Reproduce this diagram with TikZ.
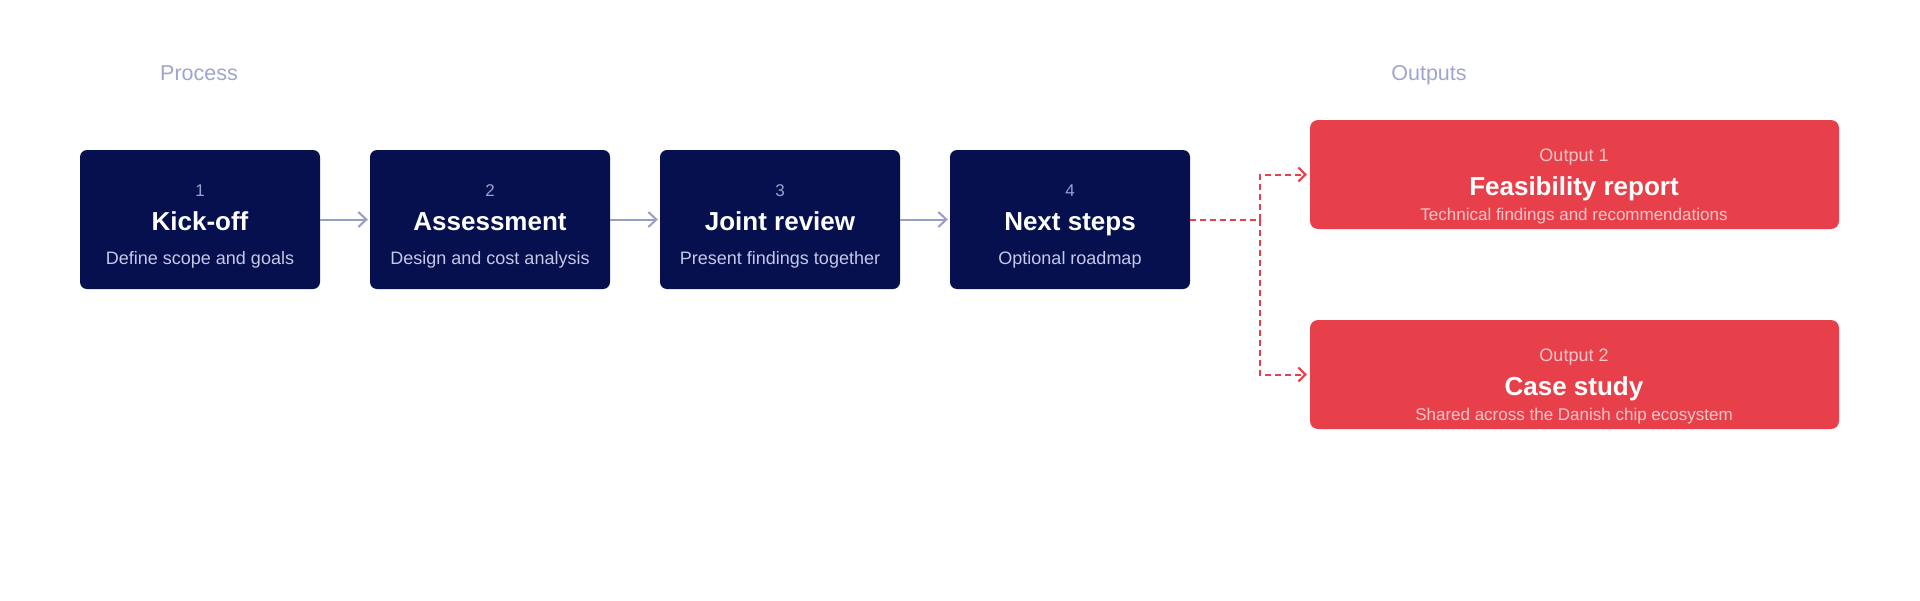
\documentclass[tikz,border=0pt]{standalone}
\usepackage{fontspec}
\setmainfont{Liberation Sans}
\usetikzlibrary{arrows.meta}
\definecolor{navy}{HTML}{06104F}
\definecolor{redbox}{HTML}{E8404A}
\definecolor{lbl}{HTML}{9FA5CF}
\definecolor{numc}{HTML}{9BA1CC}
\definecolor{subc}{HTML}{C5C9E6}
\definecolor{arrc}{HTML}{9A9DC3}
\definecolor{pinkt}{HTML}{F8C6C9}
\tikzset{
  stepbox/.style={fill=navy, draw=none, rounded corners=7pt, minimum width=240pt, minimum height=139pt, inner sep=0pt},
  outbox/.style={fill=redbox, draw=none, rounded corners=8pt, minimum width=529pt, minimum height=109pt, inner sep=0pt},
  headlbl/.style={anchor=base, inner sep=0pt, text=lbl, font=\fontsize{21.5}{25}\selectfont},
  numtxt/.style={anchor=base, inner sep=0pt, text=numc, font=\fontsize{17}{20}\selectfont},
  titletxt/.style={anchor=base, inner sep=0pt, text=white, font=\fontsize{26}{30}\selectfont\bfseries},
  subtxt/.style={anchor=base, inner sep=0pt, text=subc, font=\fontsize{18}{21}\selectfont},
  onum/.style={anchor=base, inner sep=0pt, text=pinkt, font=\fontsize{18}{21}\selectfont},
  otitle/.style={anchor=base, inner sep=0pt, text=white, font=\fontsize{26}{30}\selectfont\bfseries},
  osub/.style={anchor=base, inner sep=0pt, text=pinkt, font=\fontsize{17}{20}\selectfont},
  flowarrow/.style={draw=arrc, line width=2pt, -{Straight Barb[length=8pt,width=15pt,line width=2pt]}, shorten >=2pt},
  reddash/.style={draw=redbox, line width=2pt, dash pattern=on 6pt off 4pt},
  redarrow/.style={reddash, -{Straight Barb[length=7pt,width=14pt,line width=2pt]}, shorten >=3pt},
}
\begin{document}
\begin{tikzpicture}[x=1pt,y=-1pt]
\useasboundingbox[fill=white] (0,0) rectangle (1920,600);

\node[headlbl] (proc) at (199,80) {Process};
\node[headlbl] (outs) at (1429,80) {Outputs};

% process boxes
\node[stepbox] (s1) at (200,219.5) {};
\node[stepbox] (s2) at (490,219.5) {};
\node[stepbox] (s3) at (780,219.5) {};
\node[stepbox] (s4) at (1070,219.5) {};

\node[numtxt] (s1n) at (200,196) {1};
\node[titletxt] (s1t) at (200,230) {Kick-off};
\node[subtxt] (s1s) at (200,264) {Define scope and goals};

\node[numtxt] (s2n) at (490,196) {2};
\node[titletxt] (s2t) at (490,230) {Assessment};
\node[subtxt] (s2s) at (490,264) {Design and cost analysis};

\node[numtxt] (s3n) at (780,196) {3};
\node[titletxt] (s3t) at (780,230) {Joint review};
\node[subtxt] (s3s) at (780,264) {Present findings together};

\node[numtxt] (s4n) at (1070,196) {4};
\node[titletxt] (s4t) at (1070,230) {Next steps};
\node[subtxt] (s4s) at (1070,264) {Optional roadmap};

% output boxes
\node[outbox] (o1) at (1574.5,174.5) {};
\node[outbox] (o2) at (1574.5,374.5) {};

\node[onum] (o1n) at (1574,161.7) {Output 1};
\node[otitle] (o1t) at (1574,195.5) {Feasibility report};
\node[osub] (o1s) at (1574,220) {Technical findings and recommendations};

\node[onum] (o2n) at (1574,361.7) {Output 2};
\node[otitle] (o2t) at (1574,395.5) {Case study};
\node[osub] (o2s) at (1574,420) {Shared across the Danish chip ecosystem};

% connectors
\draw[flowarrow] (s1.east) -- (s2.west);
\draw[flowarrow] (s2.east) -- (s3.west);
\draw[flowarrow] (s3.east) -- (s4.west);

\coordinate (j) at (1260,219.5);
\draw[reddash] (s4.east) -- (j);
\draw[redarrow] (j) |- (o1.west);
\draw[redarrow] (j) |- (o2.west);
\end{tikzpicture}
\end{document}
